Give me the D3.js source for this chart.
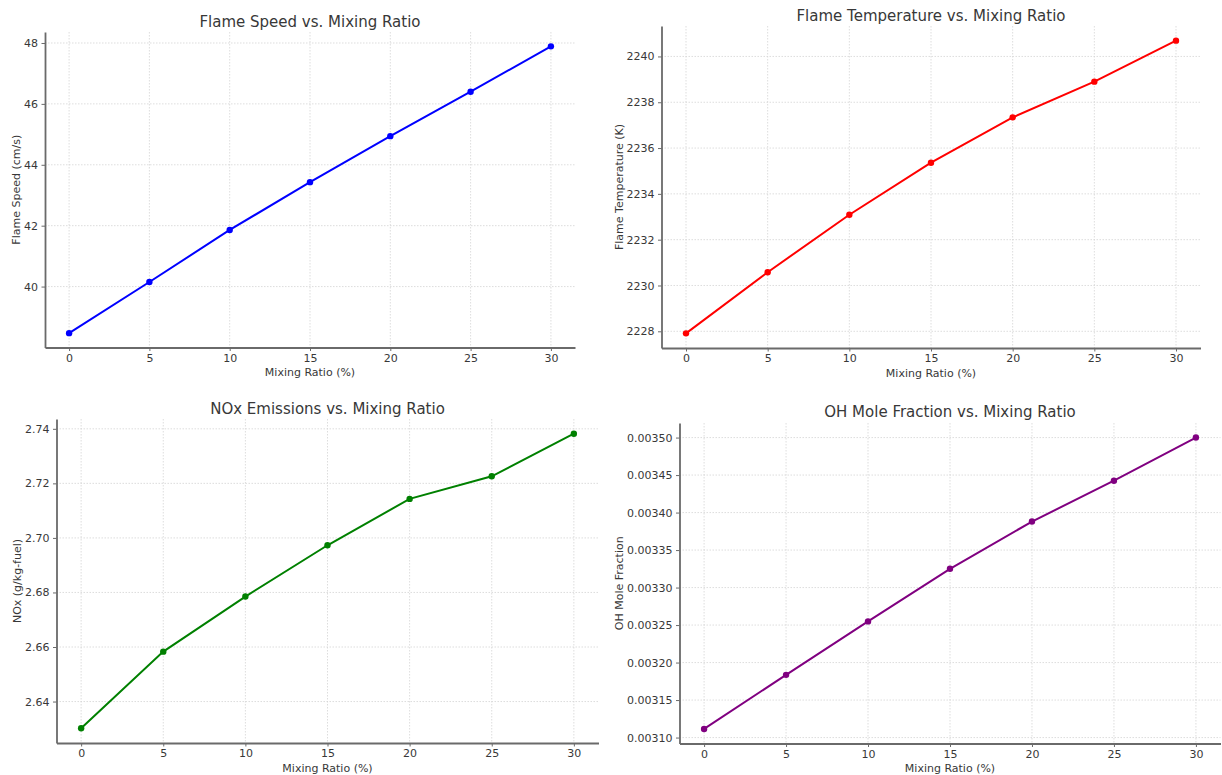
<!DOCTYPE html>
<html>
<head>
<meta charset="utf-8">
<script src="https://cdn.jsdelivr.net/npm/d3@7"></script>
<style>
  html, body { margin: 0; padding: 0; background: #ffffff; }
  svg { display: block; font-family: "DejaVu Sans", sans-serif; }
</style>
</head>
<body>
<svg id="fig" width="1222" height="775"></svg>
<script>
// Mixing ratio sweep (%)
const mixingRatio = [0, 5, 10, 15, 20, 25, 30];

// Measured responses at each mixing ratio
const flameSpeed = [38.47, 40.15, 41.86, 43.43, 44.94, 46.40, 47.89];
const flameTemperature = [2227.91, 2230.58, 2233.09, 2235.36, 2237.34, 2238.90, 2240.69];
const noxEmissions = [2.6302, 2.6583, 2.6785, 2.6973, 2.7143, 2.7226, 2.7382];
const ohMoleFraction = [0.0031115, 0.0031836, 0.0032549, 0.0033250, 0.0033880, 0.0034425, 0.0035000];

// Tick values
const xTicks = [0, 5, 10, 15, 20, 25, 30];
const speedTicks = [40, 42, 44, 46, 48];
const temperatureTicks = [2228, 2230, 2232, 2234, 2236, 2238, 2240];
const noxTicks = [2.64, 2.66, 2.68, 2.70, 2.72, 2.74];
const ohTicks = [0.00310, 0.00315, 0.00320, 0.00325, 0.00330, 0.00335, 0.00340, 0.00345, 0.00350];

const panels = [
  { title: "Flame Speed vs. Mixing Ratio", yLabel: "Flame Speed (cm/s)",
    values: flameSpeed, ticks: speedTicks, fmt: d3.format("d"), color: "#0000ff",
    box: { left: 45, right: 575, top: 32, bottom: 347.5 }, titleY: 27 },
  { title: "Flame Temperature vs. Mixing Ratio", yLabel: "Flame Temperature (K)",
    values: flameTemperature, ticks: temperatureTicks, fmt: d3.format("d"), color: "#ff0000",
    box: { left: 661.5, right: 1200.5, top: 26, bottom: 348 }, titleY: 21 },
  { title: "NOx Emissions vs. Mixing Ratio", yLabel: "NOx (g/kg-fuel)",
    values: noxEmissions, ticks: noxTicks, fmt: d3.format(".2f"), color: "#008000",
    box: { left: 56.5, right: 598.5, top: 419, bottom: 743 }, titleY: 414 },
  { title: "OH Mole Fraction vs. Mixing Ratio", yLabel: "OH Mole Fraction",
    values: ohMoleFraction, ticks: ohTicks, fmt: d3.format(".5f"), color: "#800080",
    box: { left: 679.5, right: 1220.5, top: 423, bottom: 743.5 }, titleY: 417 }
];

const svg = d3.select("#fig");
const textColor = "#383838";
const spineColor = "#6a6a6a";

// Pad a numeric extent by 5% on both sides
function padded(ext) {
  const m = (ext[1] - ext[0]) * 0.05;
  return [ext[0] - m, ext[1] + m];
}

panels.forEach(p => {
  const b = p.box;
  const x = d3.scaleLinear().domain(padded(d3.extent(mixingRatio))).range([b.left, b.right]);
  const y = d3.scaleLinear().domain(padded(d3.extent(p.values))).range([b.bottom, b.top]);
  const g = svg.append("g");

  // dotted grid
  const grid = g.append("g").attr("stroke", "#d4d4d4").attr("stroke-width", 0.8)
    .attr("stroke-dasharray", "1.5,1.5");
  grid.selectAll("line.v").data(xTicks).join("line").attr("class", "v")
    .attr("x1", d => x(d)).attr("x2", d => x(d)).attr("y1", b.top).attr("y2", b.bottom);
  grid.selectAll("line.h").data(p.ticks).join("line").attr("class", "h")
    .attr("x1", b.left).attr("x2", b.right).attr("y1", d => y(d)).attr("y2", d => y(d));

  // axes
  const xAxis = g.append("g").attr("transform", `translate(0,${b.bottom})`)
    .call(d3.axisBottom(x).tickValues(xTicks).tickFormat(d3.format("d"))
      .tickSizeInner(3.5).tickSizeOuter(0).tickPadding(3));
  const yAxis = g.append("g").attr("transform", `translate(${b.left},0)`)
    .call(d3.axisLeft(y).tickValues(p.ticks).tickFormat(p.fmt)
      .tickSizeInner(3.5).tickSizeOuter(0).tickPadding(3.5));
  [xAxis, yAxis].forEach(a => {
    a.select(".domain").attr("stroke", spineColor).attr("stroke-width", 1.8);
    a.selectAll(".tick line").attr("stroke", spineColor).attr("stroke-width", 1);
    a.selectAll(".tick text").attr("fill", textColor)
      .style("font-family", "DejaVu Sans").style("font-size", "11px");
  });

  // line and markers
  const pts = mixingRatio.map((m, i) => [m, p.values[i]]);
  g.append("path").datum(pts)
    .attr("fill", "none").attr("stroke", p.color).attr("stroke-width", 2)
    .attr("d", d3.line().x(d => x(d[0])).y(d => y(d[1])));
  g.selectAll("circle").data(pts).join("circle")
    .attr("cx", d => x(d[0])).attr("cy", d => y(d[1])).attr("r", 3.2)
    .attr("fill", p.color);

  // title
  g.append("text").attr("x", (b.left + b.right) / 2).attr("y", p.titleY)
    .attr("text-anchor", "middle").attr("fill", textColor)
    .style("font-size", "15px").text(p.title);

  // x label
  g.append("text").attr("x", (b.left + b.right) / 2).attr("y", b.bottom + 28.5)
    .attr("text-anchor", "middle").attr("fill", textColor)
    .style("font-size", "11px").text("Mixing Ratio (%)");

  // y label, placed just left of the tick labels
  const bb = yAxis.node().getBBox();
  const lx = b.left + bb.x - 4;
  const ly = (b.top + b.bottom) / 2;
  g.append("text").attr("transform", `translate(${lx},${ly}) rotate(-90)`)
    .attr("text-anchor", "middle").attr("fill", textColor)
    .style("font-size", "11px").text(p.yLabel);
});
</script>
</body>
</html>
